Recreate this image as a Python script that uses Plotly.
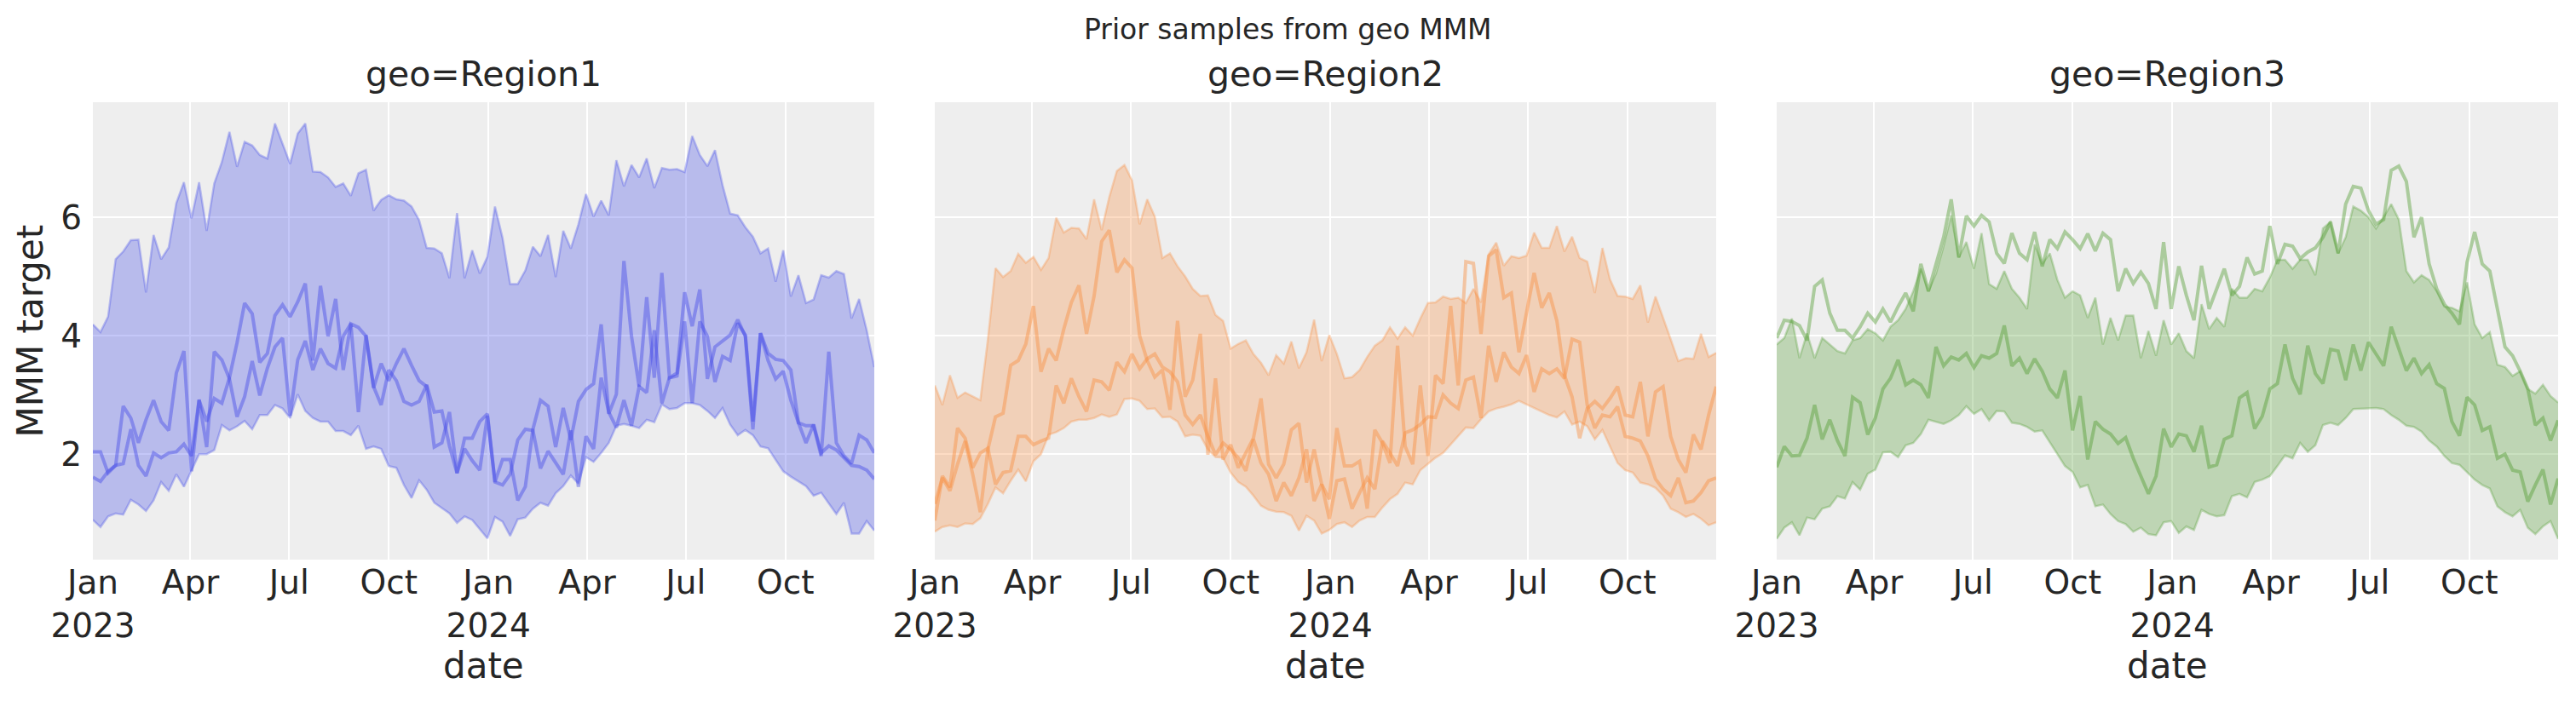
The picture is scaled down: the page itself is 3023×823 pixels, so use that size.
import pandas as pd
import plotly.graph_objects as go

# weekly dates, Jan 2023 - Dec 2024
dates = pd.date_range("2023-01-01", periods=104, freq="7D")

tick_dates = ["2023-01-01", "2023-04-01", "2023-07-01", "2023-10-01",
              "2024-01-01", "2024-04-01", "2024-07-01", "2024-10-01"]
tick_labels = ["Jan<br>2023", "Apr", "Jul", "Oct", "Jan<br>2024", "Apr", "Jul", "Oct"]
y_ticks = [2, 4, 6]

regions = ["Region1", "Region2", "Region3"]

# ---- Region1 ----
region1_upper = [
    4.19, 4.06, 4.32, 5.29, 5.42, 5.61, 5.62, 4.73, 5.70, 5.29,
    5.49, 6.24, 6.59, 5.98, 6.59, 5.77, 6.57, 6.93, 7.44, 6.85,
    7.27, 7.21, 7.05, 6.99, 7.58, 7.23, 6.90, 7.41, 7.58, 6.77,
    6.76, 6.67, 6.51, 6.57, 6.36, 6.74, 6.80, 6.11, 6.29, 6.37,
    6.30, 6.28, 6.18, 5.95, 5.48, 5.47, 5.39, 4.97, 6.07, 4.97,
    5.44, 5.05, 5.33, 6.18, 5.65, 4.87, 4.87, 5.10, 5.50, 5.34,
    5.70, 4.99, 5.77, 5.47, 5.88, 6.39, 6.01, 6.28, 6.03, 6.96,
    6.52, 6.88, 6.67, 6.99, 6.49, 6.83, 6.80, 6.81, 6.76, 7.37,
    7.05, 6.86, 7.13, 6.54, 6.06, 6.03, 5.83, 5.67, 5.39, 5.47,
    4.91, 5.44, 4.66, 5.02, 4.55, 4.61, 5.02, 4.98, 5.09, 5.04,
    4.29, 4.62, 4.09, 3.47,
]
region1_lower = [
    0.89, 0.77, 0.95, 1.00, 0.98, 1.23, 1.15, 1.04, 1.22, 1.53,
    1.38, 1.66, 1.45, 1.73, 2.00, 2.00, 2.07, 2.49, 2.40, 2.47,
    2.56, 2.42, 2.66, 2.66, 2.83, 2.77, 2.61, 3.01, 2.73, 2.61,
    2.55, 2.55, 2.39, 2.39, 2.32, 2.48, 2.09, 2.13, 2.09, 1.80,
    1.77, 1.48, 1.26, 1.56, 1.40, 1.18, 1.09, 1.00, 0.84, 0.95,
    0.89, 0.74, 0.58, 0.94, 0.86, 0.62, 0.90, 0.93, 1.08, 1.18,
    1.13, 1.34, 1.46, 1.64, 1.50, 1.95, 1.87, 2.02, 2.19, 2.48,
    2.51, 2.48, 2.44, 2.58, 2.54, 2.84, 2.76, 2.78, 2.86, 2.86,
    2.83, 2.73, 2.61, 2.78, 2.50, 2.32, 2.41, 2.32, 2.13, 2.10,
    1.90, 1.71, 1.62, 1.54, 1.46, 1.30, 1.35, 1.17, 0.99, 1.18,
    0.66, 0.66, 0.87, 0.71,
]
region1_sample_a = [
    2.04, 2.04, 1.68, 1.81, 1.84, 2.42, 1.81, 1.63, 2.02, 1.94,
    2.02, 2.04, 2.17, 1.97, 2.91, 2.55, 2.94, 2.86, 3.29, 3.88,
    4.55, 4.37, 3.55, 3.70, 4.34, 4.52, 4.32, 4.57, 4.88, 3.58,
    4.84, 3.99, 4.62, 3.42, 4.20, 4.14, 3.99, 3.12, 3.53, 3.24,
    3.53, 3.78, 3.50, 3.24, 3.14, 2.12, 2.19, 2.71, 1.68, 2.27,
    2.27, 2.55, 2.68, 1.53, 1.91, 1.91, 1.22, 1.45, 2.42, 2.91,
    2.81, 2.12, 2.78, 2.24, 2.89, 3.09, 3.19, 4.19, 2.68, 3.01,
    5.26, 3.99, 3.14, 4.65, 3.29, 5.06, 3.29, 3.37, 4.73, 4.16,
    4.78, 3.27, 3.81, 3.91, 4.01, 4.27, 3.99, 2.42, 4.04, 3.70,
    3.60, 3.58, 3.42, 2.53, 2.48, 2.48, 1.97, 3.73, 2.19, 1.97,
    1.84, 2.32, 2.24, 2.02,
]
region1_sample_b = [
    1.61, 1.54, 1.71, 1.81, 2.81, 2.61, 2.19, 2.58, 2.91, 2.55,
    2.40, 3.37, 3.74, 1.71, 2.92, 2.12, 3.73, 3.59, 3.27, 2.63,
    2.97, 3.57, 2.99, 3.45, 3.81, 3.96, 2.65, 3.59, 3.91, 3.42,
    3.78, 3.53, 3.45, 3.99, 4.20, 2.71, 4.01, 3.14, 2.83, 3.42,
    3.24, 2.89, 2.83, 2.89, 3.17, 2.71, 2.73, 2.14, 1.68, 2.09,
    1.89, 1.73, 2.65, 1.53, 1.48, 1.66, 2.24, 2.42, 2.40, 1.76,
    2.05, 1.86, 1.66, 2.40, 1.45, 2.30, 2.09, 3.29, 2.71, 2.45,
    2.91, 2.48, 3.14, 3.04, 4.09, 2.86, 3.29, 3.32, 4.24, 2.86,
    4.24, 3.99, 3.22, 3.65, 3.58, 4.21, 4.01, 2.55, 4.04, 3.58,
    3.27, 3.40, 2.91, 2.53, 2.19, 2.50, 2.02, 2.14, 2.07, 1.94,
    1.81, 1.79, 1.73, 1.58,
]

# ---- Region2 ----
region2_upper = [
    3.16, 2.83, 3.33, 2.95, 3.04, 2.97, 2.91, 3.94, 5.14, 4.99,
    5.09, 5.38, 5.23, 5.33, 5.11, 5.31, 5.99, 5.74, 5.82, 5.81,
    5.63, 6.30, 5.78, 6.34, 6.78, 6.88, 6.62, 5.88, 6.30, 6.01,
    5.31, 5.39, 5.17, 5.00, 4.79, 4.67, 4.68, 4.35, 4.25, 3.78,
    3.86, 3.92, 3.69, 3.54, 3.33, 3.67, 3.53, 3.90, 3.45, 3.72,
    4.27, 3.57, 4.01, 3.69, 3.28, 3.30, 3.42, 3.64, 3.83, 3.92,
    4.14, 3.95, 4.14, 4.00, 4.29, 4.55, 4.56, 4.66, 4.62, 4.64,
    4.55, 4.79, 4.56, 5.37, 5.57, 5.18, 5.34, 5.31, 5.35, 5.74,
    5.48, 5.48, 5.85, 5.42, 5.67, 5.31, 5.25, 4.72, 5.48, 4.95,
    4.67, 4.66, 4.62, 4.85, 4.22, 4.66, 4.31, 3.94, 3.57, 3.62,
    3.61, 4.03, 3.64, 3.71,
]
region2_lower = [
    0.69, 0.77, 0.80, 0.77, 0.83, 0.82, 0.92, 1.16, 1.44, 1.34,
    1.55, 1.74, 1.54, 1.88, 2.00, 2.33, 2.37, 2.44, 2.55, 2.58,
    2.58, 2.61, 2.67, 2.63, 2.67, 2.93, 2.94, 2.90, 2.76, 2.77,
    2.62, 2.63, 2.55, 2.30, 2.33, 2.31, 2.08, 1.95, 1.94, 1.69,
    1.53, 1.45, 1.30, 1.13, 1.06, 1.03, 1.02, 0.96, 0.71, 0.96,
    0.88, 0.66, 0.72, 0.82, 0.85, 0.77, 0.88, 0.94, 0.94, 1.10,
    1.24, 1.33, 1.52, 1.49, 1.73, 1.83, 1.94, 2.02, 2.16, 2.30,
    2.45, 2.44, 2.59, 2.72, 2.77, 2.80, 2.84, 2.90, 2.84, 2.78,
    2.73, 2.66, 2.62, 2.72, 2.50, 2.55, 2.47, 2.25, 2.41, 2.13,
    1.85, 1.73, 1.69, 1.52, 1.49, 1.43, 1.30, 1.08, 1.02, 0.94,
    0.99, 0.91, 0.80, 0.85,
]
region2_sample_a = [
    1.16, 1.60, 1.38, 1.83, 2.22, 1.66, 1.02, 2.08, 2.63, 2.69,
    3.50, 3.58, 3.86, 4.50, 3.39, 3.78, 3.58, 4.11, 4.56, 4.85,
    4.03, 4.67, 5.59, 5.78, 5.07, 5.28, 5.14, 4.00, 3.58, 3.30,
    3.42, 2.75, 4.25, 2.97, 3.25, 4.03, 1.99, 3.28, 1.91, 2.16,
    1.77, 2.02, 2.27, 2.94, 1.83, 1.60, 1.83, 2.41, 2.52, 1.52,
    2.08, 1.49, 1.24, 2.44, 1.80, 1.80, 1.88, 1.08, 2.41, 2.19,
    1.85, 3.83, 2.13, 1.83, 3.16, 1.97, 3.33, 3.19, 4.50, 3.16,
    5.25, 5.22, 4.03, 5.34, 5.45, 4.64, 4.72, 3.72, 4.42, 5.06,
    4.47, 4.72, 4.25, 3.33, 2.97, 2.27, 2.77, 2.89, 2.77, 2.94,
    3.14, 2.66, 2.63, 3.22, 2.30, 3.05, 3.14, 2.30, 1.91, 1.69,
    2.33, 2.08, 2.66, 3.14,
]
region2_sample_b = [
    0.88, 1.63, 1.44, 2.44, 2.27, 1.77, 2.02, 2.10, 1.49, 1.69,
    1.72, 2.30, 2.30, 2.16, 2.22, 2.27, 3.16, 2.86, 3.28, 2.97,
    2.72, 3.25, 3.22, 3.08, 3.55, 3.39, 3.69, 3.44, 3.61, 3.69,
    3.47, 3.39, 3.22, 2.66, 2.50, 2.66, 2.30, 1.99, 2.19, 2.08,
    1.94, 1.72, 2.25, 1.85, 1.66, 1.21, 1.52, 1.30, 1.60, 2.08,
    1.21, 1.49, 0.91, 1.55, 1.58, 1.08, 1.35, 1.60, 1.41, 2.22,
    2.02, 1.80, 2.36, 2.41, 2.50, 2.63, 2.62, 3.00, 2.86, 2.77,
    3.25, 3.30, 2.61, 3.83, 3.22, 3.72, 3.47, 3.36, 3.67, 3.05,
    3.44, 3.36, 3.44, 3.28, 3.94, 3.89, 2.83, 2.44, 2.66, 2.63,
    2.80, 2.30, 2.27, 2.22, 1.97, 1.58, 1.41, 1.30, 1.60, 1.18,
    1.21, 1.35, 1.55, 1.60,
]

# ---- Region3 ----
region3_upper = [
    3.85, 3.96, 4.29, 3.62, 4.04, 3.62, 3.96, 3.85, 3.74, 3.70,
    3.92, 3.96, 4.11, 4.04, 3.92, 4.15, 4.26, 4.45, 4.75, 5.13,
    4.75, 5.05, 5.51, 6.03, 5.32, 5.58, 5.13, 5.73, 4.87, 4.79,
    5.09, 4.79, 4.64, 4.45, 5.54, 5.21, 5.39, 4.94, 4.64, 4.75,
    4.68, 4.30, 4.64, 3.85, 4.30, 3.92, 4.34, 4.34, 3.62, 4.08,
    3.66, 4.26, 3.85, 4.04, 3.74, 3.62, 4.53, 4.11, 4.30, 4.15,
    4.79, 4.64, 4.64, 4.79, 4.75, 4.98, 5.28, 5.28, 5.13, 5.28,
    5.28, 5.02, 5.81, 5.92, 5.39, 5.66, 6.18, 6.11, 6.00, 5.81,
    6.00, 6.22, 5.96, 5.09, 4.90, 5.02, 4.94, 4.75, 4.49, 4.47,
    4.41, 4.90, 4.19, 3.96, 4.06, 3.51, 3.47, 3.32, 3.40, 3.10,
    3.02, 3.17, 2.98, 2.87,
]
region3_lower = [
    0.57, 0.76, 0.85, 0.63, 0.93, 0.90, 1.08, 1.12, 1.29, 1.25,
    1.53, 1.40, 1.67, 1.74, 2.03, 2.04, 1.95, 2.15, 2.19, 2.34,
    2.58, 2.55, 2.51, 2.57, 2.66, 2.81, 2.68, 2.76, 2.57, 2.73,
    2.72, 2.53, 2.51, 2.46, 2.38, 2.40, 2.19, 2.00, 1.80, 1.70,
    1.44, 1.48, 1.12, 1.15, 0.99, 0.87, 0.82, 0.69, 0.76, 0.65,
    0.63, 0.85, 0.87, 0.67, 0.78, 0.72, 1.06, 0.99, 0.95, 0.97,
    1.29, 1.33, 1.27, 1.53, 1.57, 1.63, 1.80, 1.98, 1.93, 2.19,
    2.04, 2.15, 2.49, 2.53, 2.49, 2.61, 2.76, 2.77, 2.78, 2.78,
    2.76, 2.66, 2.58, 2.48, 2.46, 2.38, 2.23, 2.13, 1.97, 1.85,
    1.82, 1.70, 1.57, 1.48, 1.42, 1.12, 1.02, 0.95, 1.06, 0.76,
    0.65, 0.78, 0.87, 0.57,
]
region3_sample_a = [
    3.96, 4.26, 4.24, 4.17, 3.92, 4.83, 4.94, 4.38, 4.09, 4.09,
    3.96, 4.15, 4.38, 4.23, 4.45, 4.23, 4.49, 4.72, 4.41, 5.21,
    4.75, 5.21, 5.66, 6.30, 5.32, 6.02, 5.85, 6.03, 5.92, 5.39,
    5.22, 5.73, 5.39, 5.28, 5.75, 5.17, 5.62, 5.47, 5.75, 5.62,
    5.47, 5.72, 5.43, 5.73, 5.62, 4.75, 5.13, 4.88, 5.07, 4.88,
    4.45, 5.58, 4.45, 5.17, 4.68, 4.26, 5.18, 4.45, 4.79, 5.13,
    4.68, 4.83, 5.32, 5.04, 5.09, 5.85, 5.21, 5.54, 5.51, 5.30,
    5.41, 5.48, 5.66, 5.92, 5.39, 6.22, 6.52, 6.49, 6.11, 5.88,
    5.96, 6.79, 6.86, 6.60, 5.66, 6.00, 5.21, 4.79, 4.53, 4.38,
    4.19, 5.24, 5.75, 5.21, 5.09, 4.45, 3.81, 3.66, 3.40, 3.10,
    2.49, 2.61, 2.23, 2.57,
]
region3_sample_b = [
    1.78, 2.13, 1.97, 1.98, 2.27, 2.83, 2.25, 2.58, 2.23, 1.97,
    2.96, 2.87, 2.33, 2.61, 3.10, 3.28, 3.59, 3.17, 3.25, 3.17,
    2.95, 3.81, 3.49, 3.64, 3.59, 3.70, 3.46, 3.66, 3.62, 3.70,
    4.17, 3.49, 3.62, 3.36, 3.61, 3.40, 3.10, 2.95, 3.41, 2.40,
    2.98, 1.91, 2.55, 2.42, 2.34, 2.18, 2.28, 1.93, 1.63, 1.33,
    1.63, 2.43, 2.12, 2.34, 2.31, 2.04, 2.48, 1.78, 1.82, 2.25,
    2.31, 2.95, 3.04, 2.43, 2.64, 3.10, 3.19, 3.85, 3.28, 3.01,
    3.83, 3.36, 3.19, 3.77, 3.74, 3.25, 3.85, 3.41, 3.89, 3.70,
    3.49, 4.15, 3.77, 3.41, 3.62, 3.36, 3.51, 3.19, 3.11, 2.55,
    2.31, 2.96, 2.83, 2.40, 2.46, 1.93, 2.00, 1.73, 1.70, 1.20,
    1.48, 1.74, 1.15, 1.59,
]

uppers = [region1_upper, region2_upper, region3_upper]
lowers = [region1_lower, region2_lower, region3_lower]
samples = [
    [region1_sample_a, region1_sample_b],
    [region2_sample_a, region2_sample_b],
    [region3_sample_a, region3_sample_b],
]

# base colours (r, g, b) for each region
base_rgb = [(61, 68, 231), (248, 138, 58), (78, 155, 45)]

W, H = 3023, 823
OFF = 8  # page body margin shifts the figure by this much
panel_px = [(109, 1026), (1097, 2014), (2085, 3002)]
plot_top, plot_bottom = 120, 657


def px_x(p):
    return (p - OFF) / W


def px_y(p):
    return 1 - (p - OFF) / H


y_dom = [px_y(plot_bottom), px_y(plot_top)]

text_color = "#262626"
font_family = "DejaVu Sans"

fig = go.Figure()

for i, region in enumerate(regions):
    r, g, b = base_rgb[i]
    xa = "x" if i == 0 else f"x{i + 1}"
    ya = "y" if i == 0 else f"y{i + 1}"
    fill = f"rgba({r},{g},{b},0.3)"
    edge = f"rgba({r},{g},{b},0.3)"
    fig.add_trace(go.Scatter(
        x=dates, y=lowers[i], mode="lines", xaxis=xa, yaxis=ya,
        line=dict(color=edge, width=2.5), hoverinfo="skip", showlegend=False,
    ))
    fig.add_trace(go.Scatter(
        x=dates, y=uppers[i], mode="lines", xaxis=xa, yaxis=ya,
        fill="tonexty", fillcolor=fill,
        line=dict(color=edge, width=2.5), hoverinfo="skip", showlegend=False,
    ))
    for s in samples[i]:
        fig.add_trace(go.Scatter(
            x=dates, y=s, mode="lines", xaxis=xa, yaxis=ya,
            line=dict(color=f"rgba({r},{g},{b},0.42)", width=4),
            showlegend=False,
        ))

axis_common = dict(
    showgrid=True, gridcolor="white", gridwidth=2,
    zeroline=False, showline=False, ticks="", automargin=False,
    tickfont=dict(size=39, color=text_color, family=font_family),
)

layout = dict(
    width=W, height=H, autosize=False,
    margin=dict(l=0, r=0, t=0, b=0, pad=0),
    paper_bgcolor="white", plot_bgcolor="#eeeeee",
    font=dict(family=font_family, color=text_color),
    showlegend=False,
)

for i in range(3):
    x0, x1 = panel_px[i]
    xkey = "xaxis" if i == 0 else f"xaxis{i + 1}"
    ykey = "yaxis" if i == 0 else f"yaxis{i + 1}"
    layout[xkey] = dict(
        axis_common, domain=[px_x(x0), px_x(x1)],
        anchor="y" if i == 0 else f"y{i + 1}",
        range=[dates[0], dates[-1]],
        tickmode="array", tickvals=tick_dates, ticktext=tick_labels,
    )
    ydict = dict(
        axis_common, domain=y_dom,
        anchor="x" if i == 0 else f"x{i + 1}",
        range=[0.22, 7.94], tickmode="array", tickvals=y_ticks,
        ticklabelstandoff=12,
    )
    if i > 0:
        ydict["matches"] = "y"
        ydict["showticklabels"] = False
    layout[ykey] = ydict

fig.update_layout(**layout)

annotations = [
    dict(text="Prior samples from geo MMM", x=0.5 - OFF / W, y=px_y(35),
         font=dict(size=33)),
    dict(text="MMM target", x=px_x(35), y=px_y((plot_top + plot_bottom) / 2),
         textangle=-90, font=dict(size=42)),
]
for i, region in enumerate(regions):
    x0, x1 = panel_px[i]
    cx = px_x((x0 + x1) / 2)
    annotations.append(dict(text=f"geo={region}", x=cx, y=px_y(87),
                            font=dict(size=41)))
    annotations.append(dict(text="date", x=cx, y=px_y(781),
                            font=dict(size=42)))

for a in annotations:
    a.update(xref="paper", yref="paper", showarrow=False,
             xanchor="center", yanchor="middle")
    a["font"].update(color=text_color, family=font_family)
fig.update_layout(annotations=annotations)

fig.write_html("out.html")
